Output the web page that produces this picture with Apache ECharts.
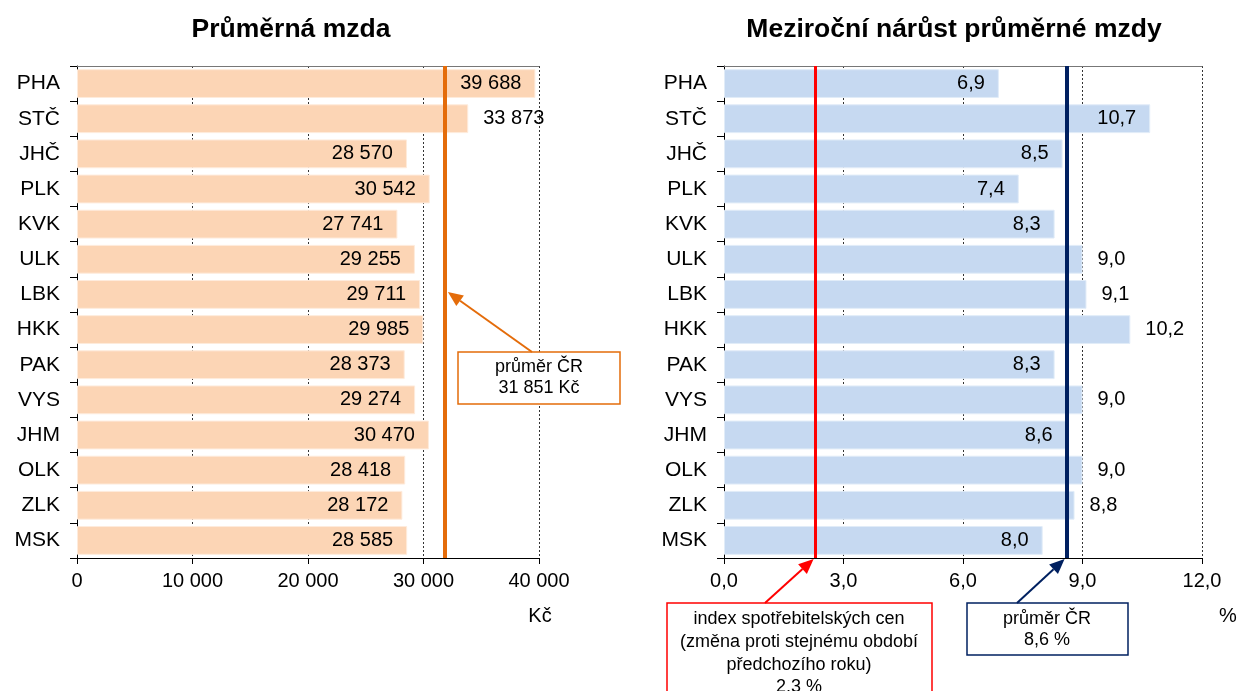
<!DOCTYPE html>
<html><head><meta charset="utf-8">
<script src="https://cdn.jsdelivr.net/npm/echarts@6/dist/echarts.min.js"></script>
<style>html,body{margin:0;padding:0;background:#fff}#c{width:1239px;height:691px}</style>
</head><body><div id="c"></div>
<script>
const categories = ['PHA','STČ','JHČ','PLK','KVK','ULK','LBK','HKK','PAK','VYS','JHM','OLK','ZLK','MSK'];
const wages = [39688,33873,28570,30542,27741,29255,29711,29985,28373,29274,30470,28418,28172,28585];
const growth = [6.9,10.7,8.5,7.4,8.3,9.0,9.1,10.2,8.3,9.0,8.6,9.0,8.8,8.0];
const wageAvg = 31851;
const growthAvg = 8.6;
const cpiIndex = 2.3;
const wageAxis = {min:0, max:40000, interval:10000};
const growthAxis = {min:0, max:12, interval:3};
const wageOutside = ['STČ'];
const growthOutside = ['ULK','LBK','HKK','VYS','OLK','ZLK'];

const FONT = "'Liberation Sans', Arial, sans-serif";
const fmtK = v => String(Math.round(v)).replace(/\B(?=(\d{3})+(?!\d))/g,' ');
const fmtP = v => Number(v).toFixed(1).replace('.',',');

const G0 = {left:77, top:66, width:462, height:492};
const G1 = {left:724, top:66, width:478, height:492};

function items(vals, cats, outside, dIn, dOut){
  return vals.map((v,i)=>{
    const out = outside.indexOf(cats[i])>=0;
    return {value:v, label:{position: out?'right':'insideRight', distance: out?dOut:dIn}};
  });
}
function valAxis(idx, cfg, fmt){
  return {type:'value', gridIndex:idx, position:'bottom', min:cfg.min, max:cfg.max, interval:cfg.interval,
    axisLine:{show:true, lineStyle:{color:'#000', width:1}},
    axisTick:{show:true, inside:false, length:6, lineStyle:{color:'#000'}},
    axisLabel:{color:'#000', fontFamily:FONT, fontSize:20, margin:13, formatter:fmt},
    splitLine:{show:true, lineStyle:{color:'#333', type:[2,2], width:1}}};
}
function topAxis(idx, cfg){
  return {type:'value', gridIndex:idx, position:'top', min:cfg.min, max:cfg.max, interval:cfg.interval,
    axisLine:{show:true, lineStyle:{color:'#777', width:1}}, axisTick:{show:false}, axisLabel:{show:false}, splitLine:{show:false}};
}
function catAxis(idx){
  return {type:'category', gridIndex:idx, data:categories, inverse:true,
    axisLine:{show:true, lineStyle:{color:'#000'}},
    axisTick:{show:true, alignWithLabel:false, length:7, lineStyle:{color:'#000'}},
    axisLabel:{color:'#000', fontFamily:FONT, fontSize:21, margin:17}};
}

const chart = echarts.init(document.getElementById('c'), null, {renderer:'canvas'});
const option = {
  animation:false,
  backgroundColor:'#fff',
  textStyle:{fontFamily:FONT},
  grid:[Object.assign({containLabel:false}, G0), Object.assign({containLabel:false}, G1)],
  xAxis:[valAxis(0, wageAxis, fmtK), valAxis(1, growthAxis, fmtP), topAxis(0, wageAxis), topAxis(1, growthAxis)],
  yAxis:[catAxis(0), catAxis(1)],
  series:[
    {type:'bar', xAxisIndex:0, yAxisIndex:0, barCategoryGap:'18%',
     data: items(wages, categories, wageOutside, 14, 15),
     itemStyle:{color:'#FCD5B5', borderColor:'#FEEBDC', borderWidth:1},
     label:{show:true, color:'#000', fontFamily:FONT, fontSize:20, formatter:p=>fmtK(p.value)},
     markLine:{silent:true, symbol:'none', label:{show:false},
       lineStyle:{color:'#E46C0A', width:4, type:'solid'}, data:[{xAxis:wageAvg}]}},
    {type:'bar', xAxisIndex:1, yAxisIndex:1, barCategoryGap:'18%',
     data: items(growth, categories, growthOutside, 14, 15),
     itemStyle:{color:'#C6D9F1', borderColor:'#E1ECF8', borderWidth:1},
     label:{show:true, color:'#000', fontFamily:FONT, fontSize:20, formatter:p=>fmtP(p.value)},
     markLine:{silent:true, symbol:'none', label:{show:false},
       data:[{xAxis:cpiIndex, lineStyle:{color:'#FF0000', width:3, type:'solid'}},
             {xAxis:growthAvg, lineStyle:{color:'#002060', width:4, type:'solid'}}]}}
  ]
};
chart.setOption(option);

function arrow(x1,y1,x2,y2,color){
  const a = Math.atan2(y2-y1, x2-x1), L=15, W=6.5;
  const bx = x2 - L*Math.cos(a), by = y2 - L*Math.sin(a);
  const nx = -Math.sin(a), ny = Math.cos(a);
  return [
    {type:'line', shape:{x1:x1,y1:y1,x2:bx,y2:by}, style:{stroke:color, lineWidth:2}, z:100},
    {type:'polygon', shape:{points:[[x2,y2],[bx+nx*W,by+ny*W],[bx-nx*W,by-ny*W]]}, style:{fill:color}, z:100}
  ];
}
const xw = chart.convertToPixel({xAxisIndex:0}, wageAvg);
const xc = chart.convertToPixel({xAxisIndex:1}, cpiIndex);
const xg = chart.convertToPixel({xAxisIndex:1}, growthAvg);
const bottom = G1.top + G1.height;
const boxText = {fontFamily:FONT, fontSize:18, fill:'#000', align:'center', verticalAlign:'top', lineHeight:22};
const g = [
  {type:'text', x:291, y:30, style:{text:'Průměrná mzda', fontFamily:FONT, fontSize:26.5, fontWeight:'bold', fill:'#000', align:'center', verticalAlign:'middle'}},
  {type:'text', x:954, y:30, style:{text:'Meziroční nárůst průměrné mzdy', fontFamily:FONT, fontSize:26.5, fontWeight:'bold', fill:'#000', align:'center', verticalAlign:'middle'}},
  {type:'text', x:540, y:616, style:{text:'Kč', fontFamily:FONT, fontSize:20, fill:'#000', align:'center', verticalAlign:'middle'}},
  {type:'text', x:1228, y:616, style:{text:'%', fontFamily:FONT, fontSize:20, fill:'#000', align:'center', verticalAlign:'middle'}},
  {type:'rect', shape:{x:458, y:352, width:162, height:52}, style:{fill:'#fff', stroke:'#E46C0A', lineWidth:1.5}, z:100},
  {type:'text', x:539, y:357, style:Object.assign({}, boxText, {text:'průměr ČR\n31 851 Kč', lineHeight:21}), z:101},
  ...arrow(532, 352, xw+3, 292, '#E46C0A'),
  {type:'rect', shape:{x:667, y:603, width:265, height:110}, style:{fill:'#fff', stroke:'#FF0000', lineWidth:1.5}, z:100},
  {type:'text', x:799, y:608, style:Object.assign({}, boxText, {text:'index spotřebitelských cen\n(změna proti stejnému období\npředchozího roku)\n2,3 %', lineHeight:22.7}), z:101},
  ...arrow(765, 603, xc-2, bottom+1, '#FF0000'),
  {type:'rect', shape:{x:967, y:603, width:161, height:52}, style:{fill:'#fff', stroke:'#002060', lineWidth:1.5}, z:100},
  {type:'text', x:1047, y:609, style:Object.assign({}, boxText, {text:'průměr ČR\n8,6 %', lineHeight:21}), z:101},
  ...arrow(1017, 603, xg-2, bottom+1, '#002060')
];
chart.setOption({graphic:g});
</script></body></html>
